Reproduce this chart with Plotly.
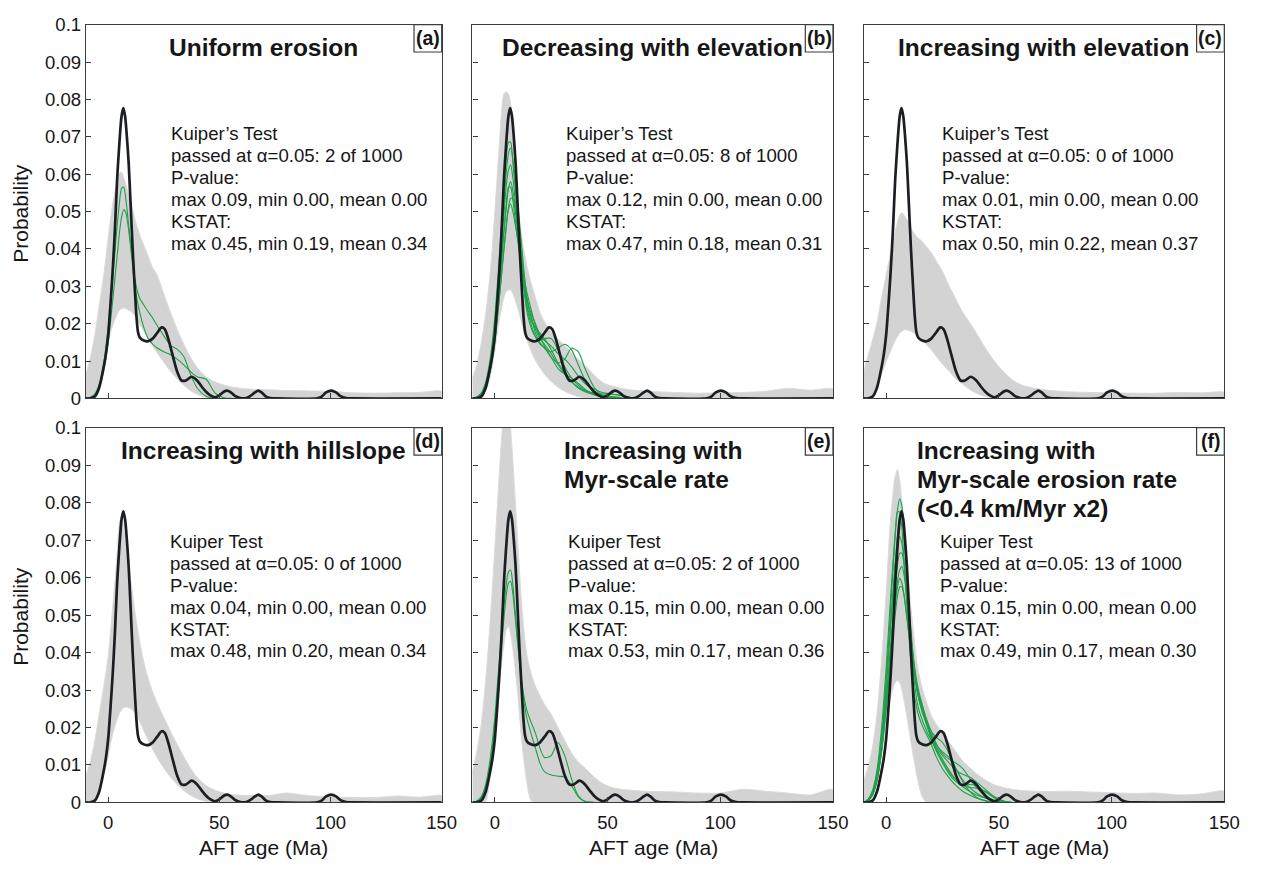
import plotly.graph_objects as go

W, H = 1263, 871

# ---------------------------------------------------------------
# Observed AFT age probability density (black curve, every panel)
# ---------------------------------------------------------------
obs_age = [-10, -8, -6, -4, -2, -1, 0, 1, 2, 3, 4, 5, 6, 6.8, 7.6, 8.4, 9.2, 10, 11, 12,
           12.7, 13.4, 14.2, 16, 18, 20, 22, 24, 25.5, 27, 29, 31, 33, 35, 37.5, 40, 42,
           44, 46, 48, 50, 52, 53.5, 55, 57, 59.5, 62, 64, 66, 67.5, 69, 71, 73, 76, 94,
           96, 98, 100.3, 102.5, 104.5, 107, 110, 150]
obs_pdf = [0, 0, 0.0005, 0.003, 0.0085, 0.012, 0.017, 0.025, 0.034, 0.045, 0.0585, 0.068,
           0.0755, 0.0777, 0.0755, 0.07, 0.063, 0.053, 0.04, 0.029, 0.022, 0.0178, 0.0163,
           0.0155, 0.0153, 0.016, 0.0175, 0.019, 0.0185, 0.016, 0.0115, 0.0072, 0.0048,
           0.0048, 0.0058, 0.0048, 0.0032, 0.0018, 0.0008, 0.0003, 0.0008, 0.0018, 0.0021,
           0.0017, 0.0007, 0.0001, 0.0001, 0.0007, 0.0016, 0.0021, 0.0016, 0.0005, 0.0001,
           0, 0, 0.0005, 0.0016, 0.0021, 0.0016, 0.0006, 0.0001, 0, 0]

# ---------------------------------------------------------------
# Envelope (max / min) of the 1000 synthetic distributions per scenario
# ---------------------------------------------------------------
env_age = [-10, -8, -6, -4, -2, 0, 2, 4, 5, 6, 7, 8, 10, 12, 14, 16, 18, 20, 22, 25, 28,
           31, 34, 37, 40, 44, 48, 52, 56, 60, 66, 72, 80, 90, 100, 110, 120, 130, 140, 150]

env_a_hi = [0.0065, 0.011, 0.017, 0.025, 0.033, 0.043, 0.052, 0.058, 0.0602, 0.0605, 0.059,
            0.057, 0.053, 0.048, 0.044, 0.041, 0.038, 0.035, 0.033, 0.028, 0.023, 0.0185,
            0.0145, 0.011, 0.0083, 0.0058, 0.0044, 0.0036, 0.003, 0.0027, 0.0024, 0.0023,
            0.0021, 0.002, 0.0019, 0.0015, 0.0014, 0.0015, 0.0016, 0.0019]
env_a_lo = [0, 0, 0.0007, 0.004, 0.01, 0.015, 0.0195, 0.0225, 0.0235, 0.024, 0.0242, 0.024,
            0.0233, 0.0222, 0.02, 0.018, 0.0158, 0.014, 0.0122, 0.0097, 0.0073, 0.0053,
            0.0035, 0.0021, 0.0011, 0.0003, 0, 0, 0, 0, 0, 0, 0, 0, 0, 0, 0, 0, 0, 0]

env_b_hi = [0.0053, 0.009, 0.015, 0.023, 0.034, 0.05, 0.068, 0.0815, 0.082, 0.0815, 0.079,
            0.072, 0.053, 0.043, 0.036, 0.031, 0.027, 0.023, 0.0205, 0.0178, 0.0158, 0.0142,
            0.0122, 0.0105, 0.0088, 0.0063, 0.0042, 0.0033, 0.0027, 0.0023, 0.002, 0.0018,
            0.0016, 0.0014, 0.0015, 0.0016, 0.0019, 0.0027, 0.0022, 0.0025]
env_b_lo = [0, 0, 0.0005, 0.002, 0.006, 0.013, 0.021, 0.027, 0.0285, 0.029, 0.029, 0.028,
            0.0245, 0.02, 0.016, 0.0128, 0.0102, 0.0082, 0.0065, 0.0045, 0.003, 0.0019,
            0.0011, 0.0005, 0.0002, 0, 0, 0, 0, 0, 0, 0, 0, 0, 0, 0, 0, 0, 0, 0]

env_c_hi = [0.007, 0.0115, 0.0157, 0.0205, 0.027, 0.033, 0.039, 0.0445, 0.047, 0.049, 0.0497,
            0.049, 0.047, 0.0445, 0.043, 0.042, 0.0405, 0.039, 0.037, 0.034, 0.03, 0.0265,
            0.023, 0.0203, 0.0175, 0.0135, 0.01, 0.0072, 0.005, 0.0036, 0.0027, 0.0022,
            0.0018, 0.0016, 0.0015, 0.0014, 0.0014, 0.0016, 0.0015, 0.0016]
env_c_lo = [0, 0, 0.0008, 0.0035, 0.0065, 0.0098, 0.0128, 0.0155, 0.0165, 0.0175, 0.018,
            0.0184, 0.0182, 0.0176, 0.0166, 0.0155, 0.0143, 0.013, 0.0115, 0.0092, 0.0072,
            0.0052, 0.0038, 0.0024, 0.0014, 0.0005, 0.0001, 0, 0, 0, 0, 0, 0, 0, 0, 0, 0, 0, 0, 0]

env_d_hi = [0.0073, 0.011, 0.0165, 0.0237, 0.031, 0.039, 0.052, 0.066, 0.0745, 0.0765, 0.073,
            0.068, 0.06, 0.051, 0.0435, 0.0375, 0.033, 0.0295, 0.0265, 0.0227, 0.019, 0.0155,
            0.0122, 0.0092, 0.0067, 0.0045, 0.0033, 0.0025, 0.0021, 0.0019, 0.0018, 0.0018,
            0.0025, 0.0018, 0.0015, 0.0013, 0.0013, 0.0017, 0.0014, 0.0018]
env_d_lo = [0, 0, 0, 0.0025, 0.0072, 0.0125, 0.0182, 0.0222, 0.0237, 0.0247, 0.0253, 0.0255,
            0.0251, 0.024, 0.0218, 0.0192, 0.0166, 0.0142, 0.012, 0.0092, 0.0068, 0.0048,
            0.0032, 0.0019, 0.001, 0.0003, 0, 0, 0, 0, 0, 0, 0, 0, 0, 0, 0, 0, 0, 0]

env_e_hi = [0.008, 0.0135, 0.021, 0.033, 0.049, 0.068, 0.088, 0.106, 0.112, 0.11, 0.1, 0.091,
            0.071, 0.052, 0.04, 0.0345, 0.031, 0.0285, 0.0262, 0.0235, 0.02, 0.0165, 0.0132,
            0.0108, 0.0092, 0.0068, 0.005, 0.004, 0.0035, 0.0033, 0.003, 0.0029, 0.0028,
            0.0025, 0.0025, 0.0035, 0.003, 0.0025, 0.002, 0.0035]
env_e_lo = [0, 0, 0, 0.0003, 0.009, 0.02, 0.032, 0.042, 0.046, 0.047, 0.045, 0.041, 0.03,
            0.016, 0.006, 0.0005, 0, 0, 0, 0, 0, 0, 0, 0, 0, 0, 0, 0, 0, 0, 0, 0, 0, 0, 0,
            0, 0, 0, 0, 0]

env_f_hi = [0.0058, 0.0095, 0.015, 0.024, 0.038, 0.056, 0.076, 0.087, 0.0888, 0.086, 0.08,
            0.073, 0.058, 0.046, 0.036, 0.0305, 0.0265, 0.0232, 0.021, 0.0185, 0.016, 0.0135,
            0.011, 0.0093, 0.0077, 0.006, 0.0047, 0.004, 0.0035, 0.0032, 0.003, 0.0029,
            0.003, 0.0028, 0.0026, 0.0024, 0.0025, 0.002, 0.0023, 0.003]
env_f_lo = [0, 0, 0.0015, 0.006, 0.013, 0.021, 0.028, 0.032, 0.0325, 0.032, 0.03, 0.027,
            0.02, 0.0125, 0.006, 0.0015, 0, 0, 0, 0, 0, 0, 0, 0, 0, 0, 0, 0, 0, 0, 0, 0, 0,
            0, 0, 0, 0, 0, 0, 0]

# ---------------------------------------------------------------
# Synthetic distributions that passed the Kuiper test (green curves)
# ---------------------------------------------------------------
pass_age = [-10, -8, -6, -4, -2, 0, 2, 4, 5, 6, 7, 8, 10, 12, 14, 16, 18, 20, 22, 25, 28,
            31, 34, 37, 40, 44, 48, 52, 56, 60]

pass_a = [
    [0, 0.0003, 0.0012, 0.0038, 0.0095, 0.019, 0.032, 0.046, 0.052, 0.0562, 0.0565, 0.053,
     0.042, 0.032, 0.027, 0.025, 0.0232, 0.0215, 0.0195, 0.0168, 0.0142, 0.0132, 0.0112,
     0.0065, 0.0028, 0.0006, 0, 0, 0, 0],
    [0, 0.0002, 0.001, 0.003, 0.0075, 0.015, 0.026, 0.038, 0.044, 0.0485, 0.0505, 0.0495,
     0.041, 0.03, 0.0235, 0.019, 0.016, 0.0145, 0.0135, 0.0125, 0.0117, 0.0105, 0.009,
     0.0072, 0.0058, 0.0052, 0.0015, 0.0002, 0, 0],
]
pass_b = [
    [0, 0.0004, 0.0015, 0.0045, 0.011, 0.022, 0.038, 0.056, 0.064, 0.0685, 0.0685, 0.063,
     0.05, 0.038, 0.026, 0.021, 0.019, 0.0175, 0.016, 0.013, 0.0095, 0.007, 0.0045, 0.0028,
     0.0018, 0.001, 0.0008, 0.0005, 0.0002, 0],
    [0, 0.0003, 0.0013, 0.004, 0.01, 0.02, 0.035, 0.052, 0.06, 0.0655, 0.067, 0.064, 0.053,
     0.04, 0.028, 0.022, 0.0175, 0.015, 0.0135, 0.0125, 0.0135, 0.0145, 0.013, 0.009, 0.005,
     0.002, 0.0008, 0.0003, 0, 0],
    [0, 0.0003, 0.0011, 0.0035, 0.0087, 0.0175, 0.03, 0.044, 0.0505, 0.056, 0.058, 0.0555,
     0.047, 0.036, 0.027, 0.023, 0.02, 0.017, 0.0155, 0.014, 0.012, 0.0105, 0.0085, 0.006,
     0.004, 0.0025, 0.0015, 0.0012, 0.0008, 0.0003],
    [0, 0.0004, 0.0013, 0.0038, 0.0092, 0.018, 0.031, 0.045, 0.0515, 0.0565, 0.0565, 0.053,
     0.043, 0.034, 0.025, 0.02, 0.0165, 0.0145, 0.0135, 0.011, 0.0095, 0.0105, 0.0135,
     0.0125, 0.008, 0.003, 0.0008, 0.0002, 0, 0],
    [0, 0.0002, 0.0009, 0.003, 0.0075, 0.015, 0.027, 0.04, 0.046, 0.051, 0.0535, 0.0535,
     0.045, 0.035, 0.027, 0.022, 0.0185, 0.016, 0.0145, 0.012, 0.009, 0.0065, 0.0045, 0.003,
     0.002, 0.0015, 0.0012, 0.0011, 0.0008, 0.0004],
    [0, 0.0003, 0.001, 0.0032, 0.0078, 0.0158, 0.027, 0.0395, 0.0455, 0.0505, 0.052, 0.05,
     0.043, 0.036, 0.029, 0.024, 0.0195, 0.0165, 0.014, 0.011, 0.008, 0.0065, 0.0055, 0.004,
     0.0025, 0.001, 0.0003, 0, 0, 0],
    [0, 0.0003, 0.0012, 0.0041, 0.0098, 0.0195, 0.034, 0.049, 0.0565, 0.061, 0.0625, 0.059,
     0.047, 0.035, 0.024, 0.019, 0.0165, 0.0155, 0.016, 0.016, 0.013, 0.0085, 0.0055,
     0.0035, 0.0022, 0.0012, 0.0006, 0.0002, 0, 0],
]
pass_c = []
pass_d = []
pass_e = [
    [0, 0.0004, 0.0016, 0.005, 0.012, 0.023, 0.038, 0.052, 0.058, 0.0615, 0.062, 0.058,
     0.044, 0.032, 0.025, 0.0215, 0.0185, 0.0145, 0.012, 0.0125, 0.016, 0.0125, 0.0063,
     0.0018, 0.0003, 0, 0, 0, 0, 0],
    [0, 0.0003, 0.0013, 0.0043, 0.0105, 0.021, 0.035, 0.049, 0.055, 0.0585, 0.059, 0.0555,
     0.043, 0.031, 0.023, 0.0185, 0.0145, 0.0105, 0.0082, 0.0073, 0.007, 0.0068, 0.0045,
     0.0015, 0.0002, 0, 0, 0, 0, 0],
]
pass_f = [
    [0, 0.0008, 0.003, 0.008, 0.018, 0.033, 0.052, 0.071, 0.078, 0.081, 0.079, 0.072, 0.052,
     0.035, 0.026, 0.022, 0.019, 0.0165, 0.0145, 0.0115, 0.0085, 0.006, 0.0042, 0.003,
     0.002, 0.0012, 0.0006, 0.0002, 0, 0],
    [0, 0.0006, 0.0025, 0.007, 0.016, 0.03, 0.047, 0.064, 0.071, 0.0745, 0.0745, 0.07,
     0.054, 0.039, 0.029, 0.024, 0.021, 0.019, 0.0175, 0.016, 0.013, 0.009, 0.006, 0.004,
     0.0025, 0.0012, 0.0004, 0, 0, 0],
    [0, 0.0007, 0.0028, 0.0075, 0.017, 0.031, 0.048, 0.063, 0.0685, 0.071, 0.069, 0.064,
     0.05, 0.037, 0.029, 0.025, 0.022, 0.019, 0.016, 0.013, 0.0115, 0.0105, 0.009, 0.0065,
     0.004, 0.0018, 0.0006, 0.0001, 0, 0],
    [0, 0.0005, 0.0022, 0.0063, 0.0145, 0.027, 0.042, 0.057, 0.063, 0.0665, 0.0665, 0.063,
     0.05, 0.038, 0.03, 0.026, 0.022, 0.018, 0.015, 0.0125, 0.0105, 0.0085, 0.0075, 0.0068,
     0.0055, 0.0035, 0.0015, 0.0004, 0, 0],
    [0, 0.0005, 0.002, 0.0058, 0.0135, 0.025, 0.039, 0.053, 0.059, 0.062, 0.063, 0.0605,
     0.05, 0.039, 0.031, 0.026, 0.0215, 0.0175, 0.0145, 0.011, 0.008, 0.006, 0.0045, 0.004,
     0.0038, 0.003, 0.0015, 0.0004, 0, 0],
    [0, 0.0006, 0.0024, 0.0066, 0.015, 0.027, 0.041, 0.053, 0.0575, 0.0598, 0.0585, 0.055,
     0.045, 0.036, 0.029, 0.0245, 0.021, 0.018, 0.0155, 0.0135, 0.012, 0.009, 0.0055, 0.003,
     0.0014, 0.0004, 0, 0, 0, 0],
    [0, 0.0005, 0.0021, 0.006, 0.014, 0.025, 0.038, 0.05, 0.055, 0.0575, 0.0575, 0.055,
     0.046, 0.037, 0.03, 0.025, 0.0205, 0.017, 0.014, 0.0105, 0.0075, 0.0055, 0.0045,
     0.0048, 0.0045, 0.0028, 0.0012, 0.0003, 0, 0],
    [0, 0.0009, 0.0033, 0.009, 0.02, 0.036, 0.055, 0.072, 0.0775, 0.0775, 0.073, 0.064,
     0.045, 0.031, 0.024, 0.0205, 0.018, 0.0155, 0.0125, 0.009, 0.0065, 0.0045, 0.003, 0.002,
     0.0012, 0.0005, 0.0001, 0, 0, 0],
]

# ---------------------------------------------------------------
# Panel texts
# ---------------------------------------------------------------
panel_tags = ["(a)", "(b)", "(c)", "(d)", "(e)", "(f)"]
panel_titles = [
    ["Uniform erosion"],
    ["Decreasing with elevation"],
    ["Increasing with elevation"],
    ["Increasing with hillslope"],
    ["Increasing with", "Myr-scale rate"],
    ["Increasing with", "Myr-scale erosion rate", "(<0.4 km/Myr x2)"],
]
test_names = ["Kuiper’s Test", "Kuiper’s Test", "Kuiper’s Test",
              "Kuiper Test", "Kuiper Test", "Kuiper Test"]
n_passed = [2, 8, 0, 0, 2, 13]
n_runs = 1000
p_max = ["0.09", "0.12", "0.01", "0.04", "0.15", "0.15"]
p_min = ["0.00"] * 6
p_mean = ["0.00"] * 6
k_max = ["0.45", "0.47", "0.50", "0.48", "0.53", "0.49"]
k_min = ["0.19", "0.18", "0.22", "0.20", "0.17", "0.17"]
k_mean = ["0.34", "0.31", "0.37", "0.34", "0.36", "0.30"]

env_hi = [env_a_hi, env_b_hi, env_c_hi, env_d_hi, env_e_hi, env_f_hi]
env_lo = [env_a_lo, env_b_lo, env_c_lo, env_d_lo, env_e_lo, env_f_lo]
passed = [pass_a, pass_b, pass_c, pass_d, pass_e, pass_f]

x_ticks = [0, 50, 100, 150]
y_ticks = [0, 0.01, 0.02, 0.03, 0.04, 0.05, 0.06, 0.07, 0.08, 0.09, 0.1]
y_tick_text = ["0", "0.01", "0.02", "0.03", "0.04", "0.05", "0.06", "0.07", "0.08", "0.09", "0.1"]

# ---------------------------------------------------------------
# Layout geometry (pixels)
# ---------------------------------------------------------------
COL_X = [(87, 447), (478, 843), (874, 1239)]
ROW_Y = [(14, 397), (427, 811)]
TEXT_X = [171, 571, 951, 170, 572.5, 949.5]
TEXT_Y0 = [126, 126, 126, 543.3, 543.3, 543.3]
TEXT_DY = 22.5

FONT = "Liberation Sans, Arial, Helvetica, sans-serif"
INK = "#161616"
AXIS = "#3a3d40"
GREY = "#d3d3d3"
GREEN = "#1fa048"
BLACK = "#1b1f23"


def fx(p):
    return p / W


def fy(p):
    return 1 - p / H


fig = go.Figure()
annotations = []
shapes = []
layout = {}

for i in range(6):
    r, c = divmod(i, 3)
    sfx = "" if i == 0 else str(i + 1)
    xref, yref = "x" + sfx, "y" + sfx

    # envelope of all synthetic distributions
    fig.add_trace(go.Scatter(
        x=env_age + env_age[::-1], y=env_hi[i] + env_lo[i][::-1],
        mode="lines", fill="toself", fillcolor=GREY,
        line=dict(color="#dadada", width=1, shape="spline", smoothing=0.7),
        xaxis=xref, yaxis=yref, hoverinfo="skip", showlegend=False))

    # distributions passing the test
    for curve in passed[i]:
        fig.add_trace(go.Scatter(
            x=pass_age, y=curve, mode="lines",
            line=dict(color=GREEN, width=1.1, shape="spline", smoothing=0.7),
            xaxis=xref, yaxis=yref, hoverinfo="skip", showlegend=False))

    # observed distribution
    fig.add_trace(go.Scatter(
        x=obs_age, y=obs_pdf, mode="lines",
        line=dict(color=BLACK, width=2.7, shape="spline", smoothing=0.7),
        xaxis=xref, yaxis=yref, hoverinfo="skip", showlegend=False))

    x0, x1 = COL_X[c]
    y0, y1 = ROW_Y[r]
    axis_common = dict(
        showgrid=False, zeroline=False, showline=True, linecolor=AXIS, linewidth=1.4,
        mirror=True, ticks="inside", ticklen=5, tickwidth=1, tickcolor=AXIS,
        tickfont=dict(family=FONT, size=18.5, color=INK))
    layout["xaxis" + sfx] = dict(
        axis_common, domain=[fx(x0), fx(x1)], anchor=yref, range=[-10, 150],
        tickmode="array", tickvals=x_ticks, showticklabels=(r == 1),
        ticklabelstandoff=3)
    layout["yaxis" + sfx] = dict(
        axis_common, domain=[fy(y1), fy(y0)], anchor=xref, range=[0, 0.1],
        tickmode="array", tickvals=y_ticks, ticktext=y_tick_text,
        showticklabels=(c == 0), ticklabelstandoff=0)

    # scenario title
    if len(panel_titles[i]) == 1:
        annotations.append(dict(
            xref="paper", yref="paper", x=fx((x0 + x1) / 2), y=fy(37.7 + y0 - 14),
            xanchor="center", yanchor="middle", showarrow=False,
            text="<b>" + panel_titles[i][0] + "</b>",
            font=dict(family=FONT, size=24.5, color=INK)))
    else:
        left = 568.5 if c == 1 else 926.5
        for k, line in enumerate(panel_titles[i]):
            annotations.append(dict(
                xref="paper", yref="paper", x=fx(left), y=fy(450.3 + 29.7 * k),
                xanchor="left", yanchor="middle", showarrow=False,
                text="<b>" + line + "</b>",
                font=dict(family=FONT, size=24.5, color=INK)))

    # panel tag in a box at the upper-right corner
    shapes.append(dict(
        type="rect", xref="paper", yref="paper",
        x0=fx(x1 - 28), x1=fx(x1), y0=fy(y0 + 28), y1=fy(y0),
        line=dict(color=AXIS, width=1.2), fillcolor="white", layer="above"))
    annotations.append(dict(
        xref="paper", yref="paper", x=fx(x1 - 14), y=fy(y0 + 14),
        xanchor="center", yanchor="middle", showarrow=False,
        text="<b>" + panel_tags[i] + "</b>",
        font=dict(family=FONT, size=19.5, color=INK)))

    # Kuiper test statistics
    lines = [
        test_names[i],
        f"passed at α=0.05: {n_passed[i]} of {n_runs}",
        "P-value:",
        f"max {p_max[i]}, min {p_min[i]}, mean {p_mean[i]}",
        "KSTAT:",
        f"max {k_max[i]}, min {k_min[i]}, mean {k_mean[i]}",
    ]
    for k, line in enumerate(lines):
        annotations.append(dict(
            xref="paper", yref="paper", x=fx(TEXT_X[i]), y=fy(TEXT_Y0[i] + TEXT_DY * k),
            xanchor="left", yanchor="middle", showarrow=False, text=line,
            font=dict(family=FONT, size=18.6, color=INK)))

# axis titles
for yc in (207, 620):
    annotations.append(dict(
        xref="paper", yref="paper", x=fx(20), y=fy(yc), xanchor="center",
        yanchor="middle", showarrow=False, text="Probability", textangle=-90,
        font=dict(family=FONT, size=21, color=INK)))
for xc in (267, 661.5, 1057):
    annotations.append(dict(
        xref="paper", yref="paper", x=fx(xc), y=fy(857), xanchor="center",
        yanchor="middle", showarrow=False, text="AFT age (Ma)",
        font=dict(family=FONT, size=21, color=INK)))

fig.update_layout(
    width=W, height=H, margin=dict(l=0, r=0, t=0, b=0),
    paper_bgcolor="white", plot_bgcolor="white",
    annotations=annotations, shapes=shapes, **layout)

fig.write_html("out.html")
